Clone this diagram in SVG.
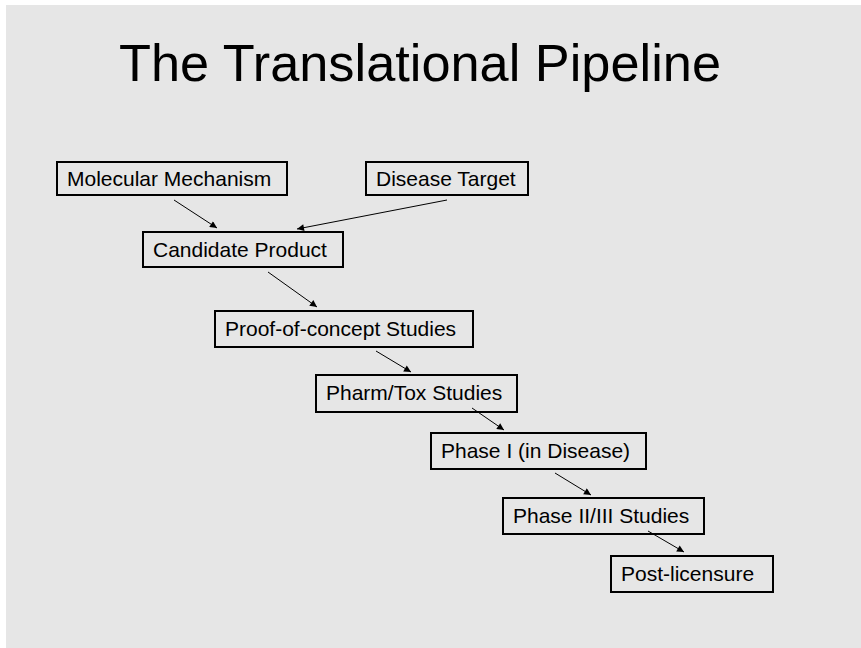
<svg xmlns="http://www.w3.org/2000/svg" width="861" height="648" viewBox="0 0 861 648">
<style>
.box{fill:none;stroke:#000;stroke-width:2}
.lbl{font-family:"Liberation Sans",Arial,sans-serif;font-size:21px;fill:#000}
.title{font-family:"Liberation Sans",Arial,sans-serif;font-size:52px;fill:#000}
.conn line{stroke:#000;stroke-width:1;marker-end:url(#ah)}
</style>
<defs>
<marker id="ah" viewBox="0 0 10 10" refX="10" refY="5" markerWidth="9" markerHeight="7" markerUnits="userSpaceOnUse" orient="auto">
<path d="M0,0 L10,5 L0,10 z" fill="#000"/>
</marker>
</defs>
<rect x="0" y="0" width="861" height="648" fill="#ffffff"/>
<rect x="6" y="5" width="855" height="643" fill="#e6e6e6"/>
<text class="title" x="119" y="81" textLength="602" lengthAdjust="spacingAndGlyphs">The Translational Pipeline</text>
<g id="n-molecular"><rect class="box" x="57" y="162" width="230" height="33"/><text class="lbl" x="67" y="186">Molecular Mechanism</text></g>
<g id="n-disease"><rect class="box" x="366" y="162" width="162" height="33"/><text class="lbl" x="376" y="186">Disease Target</text></g>
<g id="n-candidate"><rect class="box" x="143" y="232" width="200" height="35"/><text class="lbl" x="153" y="257">Candidate Product</text></g>
<g id="n-proof"><rect class="box" x="215" y="311" width="258" height="36"/><text class="lbl" x="225" y="336">Proof-of-concept Studies</text></g>
<g id="n-pharm"><rect class="box" x="316" y="375" width="201" height="37"/><text class="lbl" x="326" y="400">Pharm/Tox Studies</text></g>
<g id="n-phase1"><rect class="box" x="431" y="433" width="215" height="36"/><text class="lbl" x="441" y="458">Phase I (in Disease)</text></g>
<g id="n-phase23"><rect class="box" x="503" y="498" width="201" height="36"/><text class="lbl" x="513" y="523">Phase II/III Studies</text></g>
<g id="n-post"><rect class="box" x="611" y="556" width="162" height="36"/><text class="lbl" x="621" y="581">Post-licensure</text></g>
<g id="connectors" class="conn">
<line x1="174" y1="200" x2="217" y2="228"/>
<line x1="447" y1="200" x2="297" y2="229"/>
<line x1="268" y1="272" x2="317" y2="307"/>
<line x1="376" y1="351" x2="411" y2="372"/>
<line x1="472" y1="408" x2="504" y2="430"/>
<line x1="555" y1="473" x2="591" y2="495"/>
<line x1="648" y1="531" x2="684" y2="552"/>
</g>
</svg>
